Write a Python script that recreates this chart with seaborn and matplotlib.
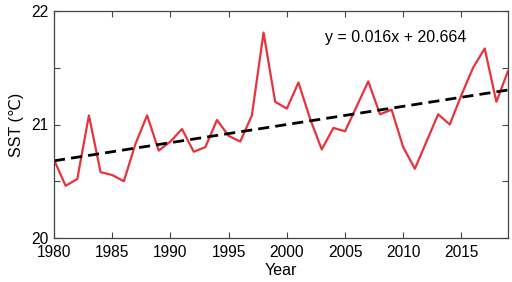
import numpy as np
import pandas as pd
import matplotlib
matplotlib.use("Agg")
import matplotlib.pyplot as plt
import seaborn as sns
from matplotlib.ticker import MultipleLocator

years = list(range(1980, 2020))
sst = [20.69, 20.46, 20.52, 21.08, 20.58, 20.555, 20.50, 20.83, 21.08, 20.77,
       20.85, 20.96, 20.76, 20.80, 21.04, 20.90, 20.85, 21.08, 21.81, 21.20,
       21.14, 21.37, 21.05, 20.78, 20.97, 20.94, 21.16, 21.38, 21.09, 21.13,
       20.80, 20.61, 20.85, 21.09, 21.00, 21.26, 21.50, 21.67, 21.20, 21.47]
slope = 0.016
intercept = 20.664
eq_label = "y = 0.016x + 20.664"

sns.set_theme(style="white")
plt.rcParams['font.family'] = ['Liberation Sans', 'DejaVu Sans']
plt.rcParams['text.color'] = 'black'
plt.rcParams['axes.labelcolor'] = 'black'

df = pd.DataFrame({"Year": years, "SST": sst})
df["idx"] = np.arange(1, len(years) + 1)
df["Trend"] = slope * df["idx"] + intercept

fig = plt.figure(figsize=(5.12, 2.82), dpi=100)
ax = fig.add_axes([54/512, 1 - 238/282, (508-54)/512, (238-11)/282])

sns.lineplot(data=df, x="Year", y="SST", ax=ax, color="#E8323C", linewidth=1.6)
sns.lineplot(data=df, x="Year", y="Trend", ax=ax, color="black", linewidth=2.0,
             linestyle=(0, (4, 2.2)))

ax.set_xlim(1980, 2019)
ax.set_ylim(20, 22)
ax.set_xticks(range(1980, 2016, 5))
ax.yaxis.set_major_locator(MultipleLocator(1))
ax.yaxis.set_minor_locator(MultipleLocator(0.5))
ax.tick_params(axis="both", which="both", direction="in", top=True, right=True,
               bottom=True, left=True,
               labelsize=11.2, colors="#444444", labelcolor="black",
               length=4, width=0.8)
ax.tick_params(axis="x", pad=5)
ax.tick_params(axis="y", pad=4)
for s in ax.spines.values():
    s.set_color("#444444")
    s.set_linewidth(0.9)

ax.set_xlabel("Year", fontsize=11.5, labelpad=2)
ax.set_ylabel("SST (℃)", fontsize=11.5, labelpad=5)
ax.text(0.597, 0.885, eq_label, transform=ax.transAxes, fontsize=11.5,
        ha="left", va="center", color="black")

fig.savefig("out.png", dpi=100)
